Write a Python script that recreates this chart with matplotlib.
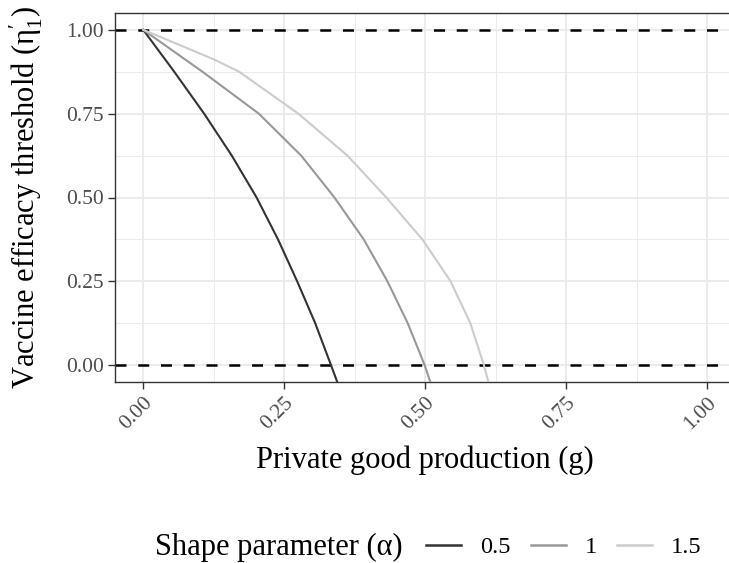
import matplotlib
matplotlib.use("Agg")
import matplotlib.pyplot as plt
from matplotlib.lines import Line2D

plt.rcParams['font.family'] = ['Liberation Serif', 'DejaVu Serif']
plt.rcParams['mathtext.fontset'] = 'custom'
plt.rcParams['mathtext.rm'] = 'Liberation Serif'
plt.rcParams['mathtext.it'] = 'Liberation Serif:italic'

# points: private good production g, threshold eta
g_a05 = [0.0, 0.055, 0.108, 0.157, 0.201, 0.239, 0.273, 0.305, 0.333, 0.344]
eta_a05 = [1.0, 0.875, 0.75, 0.625, 0.5, 0.375, 0.25, 0.125, 0.0, -0.05]

g_a10 = [0.0, 0.105, 0.205, 0.280, 0.339, 0.391, 0.433, 0.469, 0.499, 0.509]
eta_a10 = [1.0, 0.875, 0.75, 0.625, 0.5, 0.375, 0.25, 0.125, 0.0, -0.05]

g_a15 = [0.0, 0.125, 0.170, 0.275, 0.362, 0.431, 0.495, 0.545, 0.580, 0.604, 0.612]
eta_a15 = [1.0, 0.912, 0.875, 0.75, 0.625, 0.5, 0.375, 0.25, 0.125, 0.0, -0.05]

alpha_labels = ['0.5', '1', '1.5']
line_colors = ['#333333', '#989898', '#cccccc']
ticks = [0.0, 0.25, 0.5, 0.75, 1.0]
tick_labels = ['0.00', '0.25', '0.50', '0.75', '1.00']
hline_levels = [0.0, 1.0]

W, H = 729, 563
fig = plt.figure(figsize=(W / 100, H / 100), dpi=100)
# panel runs past the right edge of the image, as in the reference
ax = fig.add_axes([115 / W, (H - 382) / H, 620.5 / W, 369 / H])

ax.set_xlim(-0.05, 1.05)
ax.set_ylim(-0.05, 1.05)

ax.set_xticks(ticks)
ax.set_yticks(ticks)
ax.set_xticks([0.125, 0.375, 0.625, 0.875], minor=True)
ax.set_yticks([0.125, 0.375, 0.625, 0.875], minor=True)
ax.grid(which='major', color='#ebebeb', lw=1.4)
ax.grid(which='minor', color='#ebebeb', lw=0.7)
ax.set_axisbelow(True)

for lvl in hline_levels:
    ax.axhline(lvl, color='black', lw=1.8, dashes=(4.4, 4.7), zorder=2)

curves = [(g_a05, eta_a05), (g_a10, eta_a10), (g_a15, eta_a15)]
for (g, e), c in zip(curves, line_colors):
    ax.plot(g, e, color=c, lw=1.5, zorder=3, solid_joinstyle='round')

for s in ax.spines.values():
    s.set_color('#333333')
    s.set_linewidth(1.0)

ax.tick_params(which='major', length=5, width=1.0, color='#333333',
               labelsize=15.5, labelcolor='#4d4d4d', pad=3)
ax.tick_params(which='minor', length=0)
ax.set_xticklabels(tick_labels)
ax.set_yticklabels(tick_labels)
for lab in ax.get_xticklabels():
    lab.set_rotation(45)
    lab.set_ha('right')
    lab.set_va('top')
    lab.set_rotation_mode('anchor')

ax.set_xlabel('Private good production (g)', fontsize=22, va='center')
ax.xaxis.set_label_coords(0.5, (382 - 460) / 369)
ax.set_ylabel(r'Vaccine efficacy threshold ($\mathrm{η}_{1}^{\prime}$)', fontsize=22)
ax.yaxis.set_label_coords((45 - 115) / 620.5, 0.5)

# legend along the bottom
fig.text(155 / W, 1 - 547 / H, 'Shape parameter (α)', fontsize=22,
         ha='left', va='center')
handles = [Line2D([], [], color=c, lw=1.8) for c in line_colors]
fig.legend(handles, alpha_labels, loc='center left',
           bbox_to_anchor=(426 / W, 1 - 547 / H), ncol=3, frameon=False,
           borderpad=0, borderaxespad=0, handlelength=1.43,
           handletextpad=0.78, columnspacing=0.82, fontsize=17.6)

fig.savefig('out.png', dpi=100)
